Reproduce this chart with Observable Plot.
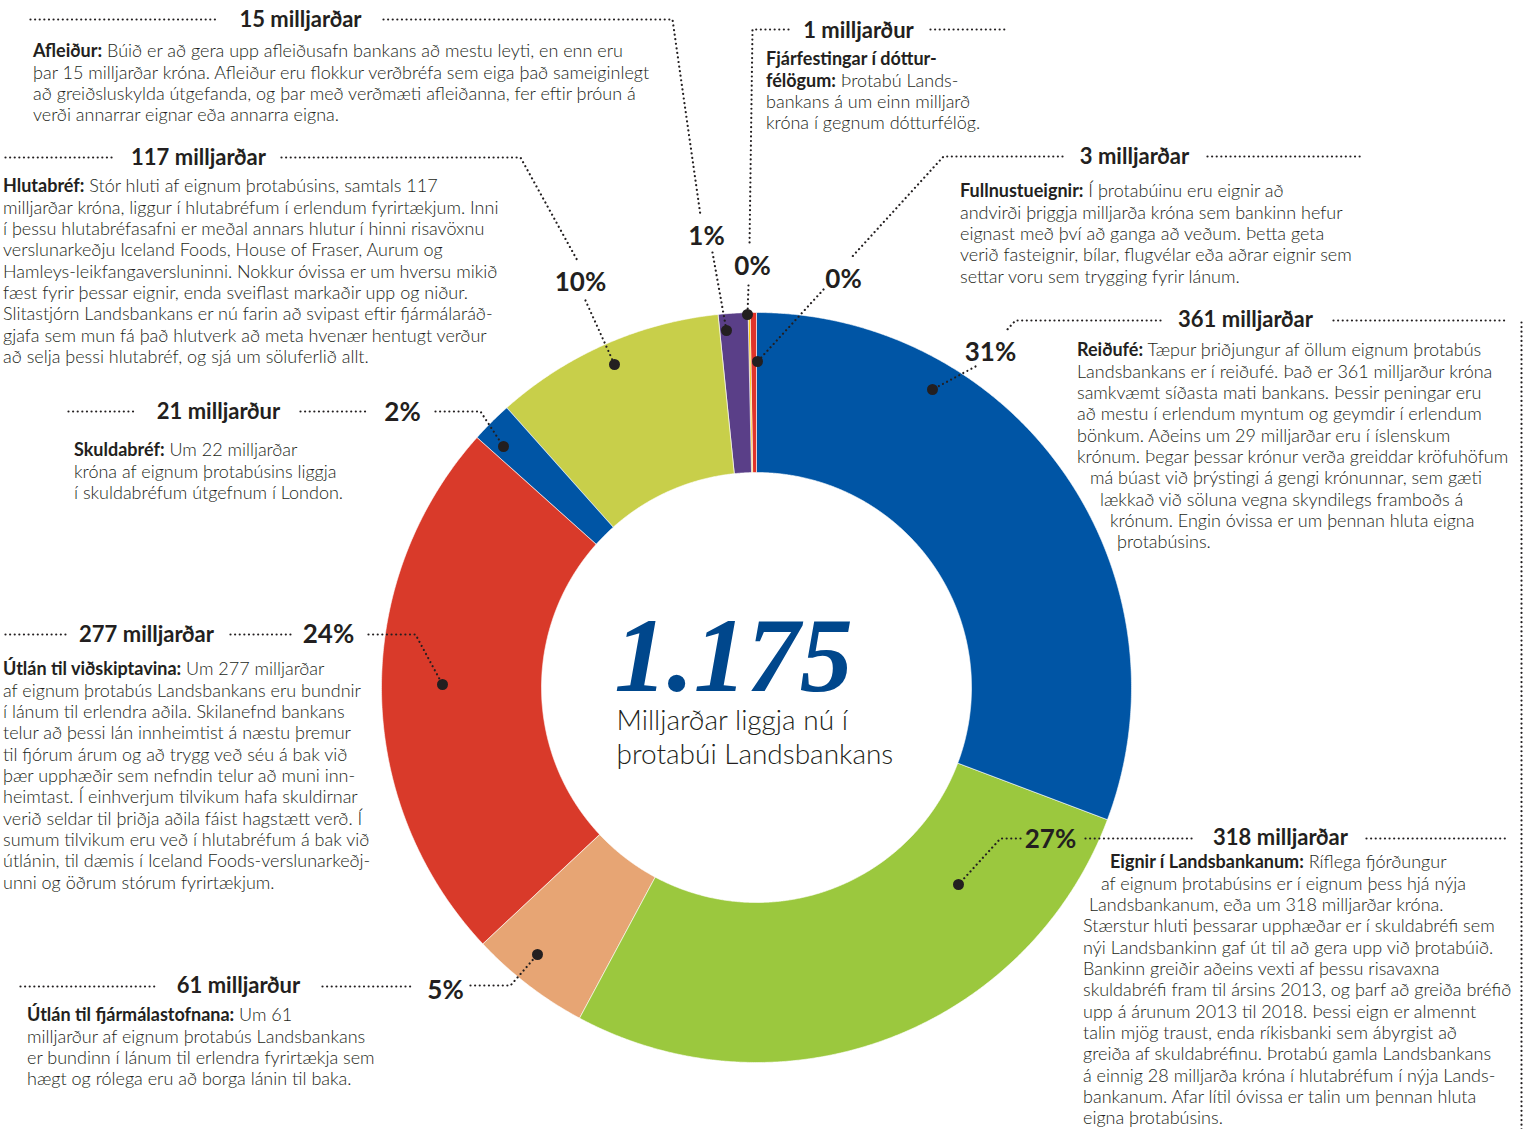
<!DOCTYPE html>
<html><head><meta charset="utf-8">
<script src="https://cdn.jsdelivr.net/npm/d3@7"></script>
<script src="https://cdn.jsdelivr.net/npm/@observablehq/plot@0.6"></script>
<style>
body{margin:0;background:#fff;}
#wrap{position:relative;width:1529px;height:1129px;overflow:hidden;font-family:Lato,"Open Sans",sans-serif;color:#231f20;}
#wrap svg{position:absolute;left:0;top:0;}
.para{position:absolute;font-size:18px;line-height:21.35px;white-space:nowrap;font-weight:300;}
.para b{font-weight:700;}
.para div{position:relative;}
</style></head>
<body><div id="wrap"></div>
<script>
// ---- data ----
const categories = ["Reiðufé","Eignir í Landsbankanum","Útlán til fjármálastofnana","Útlán til viðskiptavina","Skuldabréf","Hlutabréf","Afleiður","Fjárfestingar í dótturfélögum","Fullnustueignir"];
const values = [361,318,61,277,21,117,15,1,3];
const percentLabels = ["31%","27%","5%","24%","2%","10%","1%","0%","0%"];
const amountLabels = ["361 milljarðar","318 milljarðar","61 milljarður","277 milljarðar","21 milljarður","117 milljarðar","15 milljarðar","1 milljarður","3 milljarðar"];
const sliceColors = ["#0055a5","#9bc83e","#e7a574","#d93a2a","#0055a5","#c8cf4a","#5a3f88","#fbc700","#e0342a"];
const totalLabel = "1.175";
const subtitleLines = ["Milljarðar liggja nú í","þrotabúi Landsbankans"];
const texts = [
 ["<b>Reiðufé:</b> Tæpur þriðjungur af öllum eignum þrotabús","Landsbankans er í reiðufé. Það er 361 milljarður króna","samkvæmt síðasta mati bankans. Þessir peningar eru","að mestu í erlendum myntum og geymdir í erlendum","bönkum. Aðeins um 29 milljarðar eru í íslenskum","krónum. Þegar þessar krónur verða greiddar kröfuhöfum","má búast við þrýstingi á gengi krónunnar, sem gæti","lækkað við söluna vegna skyndilegs framboðs á","krónum. Engin óvissa er um þennan hluta eigna","þrotabúsins."],
 ["<b>Eignir í Landsbankanum:</b> Ríflega fjórðungur","af eignum þrotabúsins er í eignum þess hjá nýja","Landsbankanum, eða um 318 milljarðar króna.","Stærstur hluti þessarar upphæðar er í skuldabréfi sem","nýi Landsbankinn gaf út til að gera upp við þrotabúið.","Bankinn greiðir aðeins vexti af þessu risavaxna","skuldabréfi fram til ársins 2013, og þarf að greiða bréfið","upp á árunum 2013 til 2018. Þessi eign er almennt","talin mjög traust, enda ríkisbanki sem ábyrgist að","greiða af skuldabréfinu. Þrotabú gamla Landsbankans","á einnig 28 milljarða króna í hlutabréfum í nýja Lands-","bankanum. Afar lítil óvissa er talin um þennan hluta","eigna þrotabúsins."],
 ["<b>Útlán til fjármálastofnana:</b> Um 61","milljarður af eignum þrotabús Landsbankans","er bundinn í lánum til erlendra fyrirtækja sem","hægt og rólega eru að borga lánin til baka."],
 ["<b>Útlán til viðskiptavina:</b> Um 277 milljarðar","af eignum þrotabús Landsbankans eru bundnir","í lánum til erlendra aðila. Skilanefnd bankans","telur að þessi lán innheimtist á næstu þremur","til fjórum árum og að trygg veð séu á bak við","þær upphæðir sem nefndin telur að muni inn-","heimtast. Í einhverjum tilvikum hafa skuldirnar","verið seldar til þriðja aðila fáist hagstætt verð. Í","sumum tilvikum eru veð í hlutabréfum á bak við","útlánin, til dæmis í Iceland Foods-verslunarkeðj-","unni og öðrum stórum fyrirtækjum."],
 ["<b>Skuldabréf:</b> Um 22 milljarðar","króna af eignum þrotabúsins liggja","í skuldabréfum útgefnum í London."],
 ["<b>Hlutabréf:</b> Stór hluti af eignum þrotabúsins, samtals 117","milljarðar króna, liggur í hlutabréfum í erlendum fyrirtækjum. Inni","í þessu hlutabréfasafni er meðal annars hlutur í hinni risavöxnu","verslunarkeðju Iceland Foods, House of Fraser, Aurum og","Hamleys-leikfangaversluninni. Nokkur óvissa er um hversu mikið","fæst fyrir þessar eignir, enda sveiflast markaðir upp og niður.","Slitastjórn Landsbankans er nú farin að svipast eftir fjármálaráð-","gjafa sem mun fá það hlutverk að meta hvenær hentugt verður","að selja þessi hlutabréf, og sjá um söluferlið allt."],
 ["<b>Afleiður:</b> Búið er að gera upp afleiðusafn bankans að mestu leyti, en enn eru","þar 15 milljarðar króna. Afleiður eru flokkur verðbréfa sem eiga það sameiginlegt","að greiðsluskylda útgefanda, og þar með verðmæti afleiðanna, fer eftir þróun á","verði annarrar eignar eða annarra eigna."],
 ["<b>Fjárfestingar í dóttur-</b>","<b>félögum:</b> Þrotabú Lands-","bankans á um einn milljarð","króna í gegnum dótturfélög."],
 ["<b>Fullnustueignir:</b> Í þrotabúinu eru eignir að","andvirði þriggja milljarða króna sem bankinn hefur","eignast með því að ganga að veðum. Þetta geta","verið fasteignir, bílar, flugvélar eða aðrar eignir sem","settar voru sem trygging fyrir lánum."]
];

// ---- layout (pixels) ----
const W = 1529, H = 1129;
const CX = 756, CY = 687, R_OUT = 375, R_IN = 215;
const headerPos = [[1245,319],[1280,837],[238,985],[146,634],[218,411],[198,157],[300,19],[858,30],[1134,156]];
const pctPos = [[990,352],[1050,839],[445,990],[328,634],[402,412],[580,282],[706,236],[752,266],[843,279]];
const dotPos = [[932,389],[958,884],[537,954],[442,684],[503,446],[614,364],[726,330],[747,314],[757,361]];
const paraPos = [[1077,350,[0,0,0,0,0,0,13,23,33,40]],[1083,862,[27,18,6,0,0,0,0,0,0,0,0,0,0]],[27,1015],[3,669],[74,450],[3,186],[33,51],[766,59],[960,191]];
const connectors = [
 [[1160,320],[1015,320],[1005,331]],[[1333,320],[1505,320]],[[1521,322],[1521,1129]],[[975,366],[932,389]],
 [[1020,838],[1000,838],[958,884]],[[1085,838],[1195,838]],[[1366,838],[1505,838]],
 [[20,986],[155,986]],[[322,986],[412,986]],[[470,985],[510,985],[537,954]],
 [[5,634],[65,634]],[[230,634],[292,634]],[[368,634],[415,634],[442,684]],
 [[68,411],[137,411]],[[300,411],[368,411]],[[435,411],[480,411],[503,446]],
 [[5,157],[115,157]],[[281,157],[520,157],[578,262]],[[585,300],[614,364]],
 [[30,19],[218,19]],[[383,19],[672,19],[700,215]],[[712,252],[726,330]],
 [[788,29],[752,29],[749,246]],[[930,29],[1007,29]],[[748,285],[747,314]],
 [[1062,156],[943,156],[850,258]],[[1207,156],[1360,156]],[[823,289],[757,361]]
];

// ---- build slices ----
const arcs = d3.pie().sort(null).value(d => d)(values);
const slicePts = [];
arcs.forEach((a, i) => {
  const span = a.endAngle - a.startAngle;
  const n = Math.max(2, Math.ceil(span / 0.005));
  const pts = [];
  for (let k = 0; k <= n; k++) { const t = a.startAngle + span * k / n; pts.push([CX + R_OUT * Math.sin(t), CY - R_OUT * Math.cos(t)]); }
  for (let k = n; k >= 0; k--) { const t = a.startAngle + span * k / n; pts.push([CX + R_IN * Math.sin(t), CY - R_IN * Math.cos(t)]); }
  pts.forEach(([x, y], j) => slicePts.push({cat: categories[i], idx: i, j, x, y}));
});
const connPts = [];
connectors.forEach((c, i) => c.forEach(([x, y]) => connPts.push({id: i, x, y})));
const headers = amountLabels.map((t, i) => ({t, x: headerPos[i][0], y: headerPos[i][1]}));
const pcts = percentLabels.map((t, i) => ({t, x: pctPos[i][0], y: pctPos[i][1]}));
const dots = dotPos.map(([x, y]) => ({x, y}));

const ink = "#231f20";
const chart = Plot.plot({
  width: W, height: H, margin: 0,
  x: {domain: [0, W], range: [0, W], axis: null},
  y: {domain: [0, H], range: [0, H], axis: null},
  color: {type: "ordinal", domain: d3.range(categories.length), range: sliceColors},
  style: {background: "transparent", fontFamily: "Lato, 'Open Sans', sans-serif"},
  marks: [
    Plot.line(slicePts, {x: "x", y: "y", z: "idx", fill: "idx", stroke: "white", strokeWidth: 0.6, curve: "linear-closed"}),
    Plot.line(connPts, {x: "x", y: "y", z: "id", stroke: ink, strokeWidth: 2.2, strokeDasharray: "0.01,4.6", strokeLinecap: "round", strokeLinejoin: "round"}),
    Plot.dot(dots, {x: "x", y: "y", r: 5.5, fill: ink, stroke: "none"}),
    Plot.text(headers, {x: "x", y: "y", text: "t", fontSize: 22, fontWeight: 700, fill: ink}),
    Plot.text(pcts, {x: "x", y: "y", text: "t", fontSize: 26, fontWeight: 700, fill: ink}),
    Plot.text([totalLabel], {x: 733, y: 690, lineAnchor: "bottom", text: d => d, fontSize: 106, fontWeight: 700, fontStyle: "italic", fontFamily: "'Liberation Serif', 'DejaVu Serif', serif", fill: "#00478c", letterSpacing: "-5px"}),
    Plot.text(subtitleLines, {x: 616, y: (d, i) => 721 + i * 34, text: d => d, textAnchor: "start", fontSize: 28, fontWeight: 300, fill: ink})
  ]
});
const wrap = document.getElementById("wrap");
wrap.appendChild(chart);
texts.forEach((lines, i) => {
  const [x, y1, indents] = paraPos[i];
  const div = document.createElement("div");
  div.className = "para";
  div.style.left = x + "px";
  div.style.top = (y1 - 10.7) + "px";
  div.innerHTML = lines.map((l, k) => `<div style="left:${indents ? indents[k] : 0}px">${l}</div>`).join("");
  wrap.appendChild(div);
});
</script></body></html>
